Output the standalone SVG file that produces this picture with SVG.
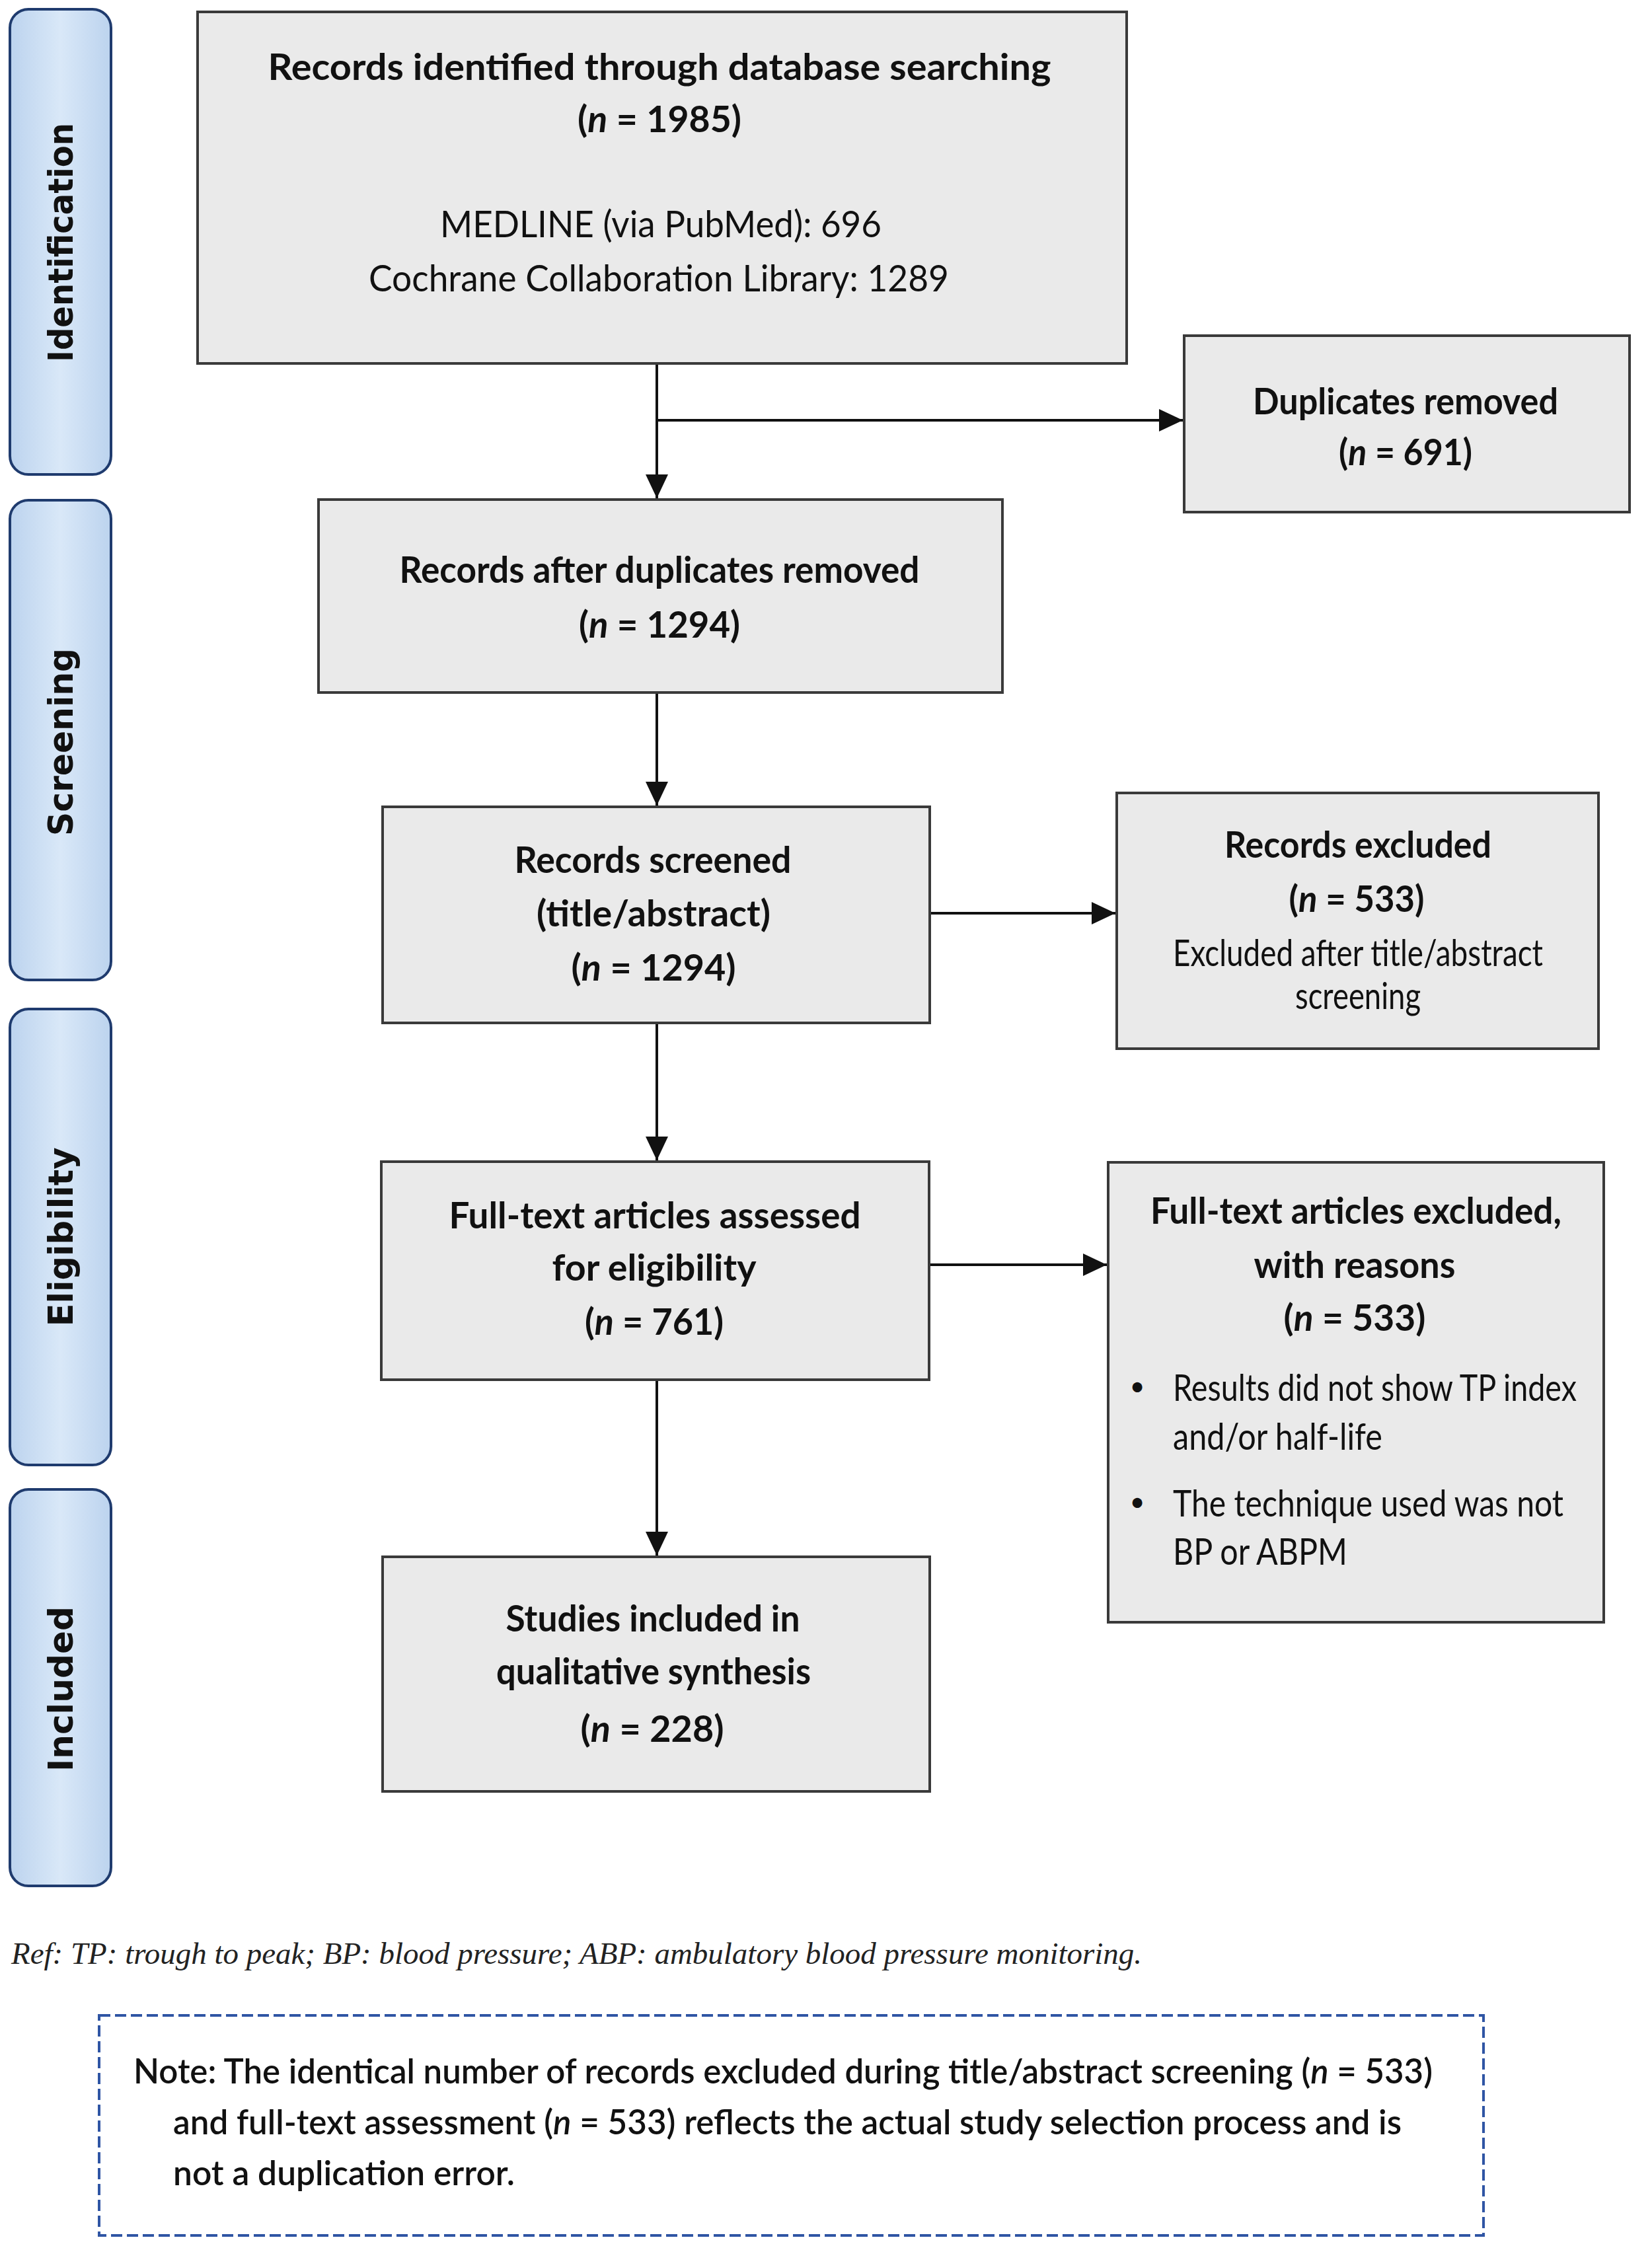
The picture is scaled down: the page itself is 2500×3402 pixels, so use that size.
<svg xmlns="http://www.w3.org/2000/svg" width="2500" height="3402" viewBox="0 0 2500 3402">
<defs>
<linearGradient id="phaseFill" x1="0" y1="0" x2="1" y2="0">
<stop offset="0" stop-color="#bcd3ee"/>
<stop offset="0.5" stop-color="#d9e8f8"/>
<stop offset="1" stop-color="#bcd3ee"/>
</linearGradient>
<marker id="arrow" markerUnits="userSpaceOnUse" markerWidth="36" markerHeight="34" refX="36" refY="17" orient="auto">
<path d="M0,0 L36,17 L0,34 Z" fill="#111"/>
</marker>
<style>
.phase rect{fill:url(#phaseFill);stroke:#1f3b6e;stroke-width:4}
.phase text{font-family:"DejaVu Sans",Verdana,sans-serif;font-weight:bold;font-size:52px;fill:#111;text-anchor:middle}
.box rect{fill:#eaeaea;stroke:#3a3a3a;stroke-width:4}
.t{font-family:Lato,"Open Sans",sans-serif;font-size:56px;fill:#111;text-anchor:middle}
.b{font-weight:bold;font-size:55px}
.l{text-anchor:start}
.i{font-style:italic}
.bul{font-size:40px}
.conn{stroke:#111;stroke-width:4;fill:none}
.ref{font-family:"Liberation Serif","Times New Roman",serif;font-style:italic;font-size:47px;fill:#222}
.note rect{fill:#fff;stroke:#2f55a4;stroke-width:4;stroke-dasharray:17 7}
.nt{font-family:Lato,"Open Sans",sans-serif;font-weight:600;font-size:51px;fill:#111}
</style>
</defs>
<rect x="0" y="0" width="2500" height="3402" fill="#fff"/>

<g id="phase-identification" class="phase">
<rect x="15" y="14" width="153" height="704" rx="28"/>
<text transform="translate(110,367) rotate(-90)" textLength="362" lengthAdjust="spacingAndGlyphs">Identification</text>
</g>
<g id="phase-screening" class="phase">
<rect x="15" y="757" width="153" height="726" rx="28"/>
<text transform="translate(110,1123) rotate(-90)" textLength="284" lengthAdjust="spacingAndGlyphs">Screening</text>
</g>
<g id="phase-eligibility" class="phase">
<rect x="15" y="1527" width="153" height="690" rx="28"/>
<text transform="translate(110,1872) rotate(-90)" textLength="271" lengthAdjust="spacingAndGlyphs">Eligibility</text>
</g>
<g id="phase-included" class="phase">
<rect x="15" y="2254" width="153" height="600" rx="28"/>
<text transform="translate(110,2556) rotate(-90)" textLength="250" lengthAdjust="spacingAndGlyphs">Included</text>
</g>

<g id="connectors">
<path class="conn" d="M994,550 V754" marker-end="url(#arrow)"/>
<path class="conn" d="M994,636 H1790" marker-end="url(#arrow)"/>
<path class="conn" d="M994,1048 V1219" marker-end="url(#arrow)"/>
<path class="conn" d="M1406,1382 H1688" marker-end="url(#arrow)"/>
<path class="conn" d="M994,1548 V1756" marker-end="url(#arrow)"/>
<path class="conn" d="M1406,1914 H1675" marker-end="url(#arrow)"/>
<path class="conn" d="M994,2088 V2354" marker-end="url(#arrow)"/>
</g>

<g id="node-identified" class="box">
<rect x="299" y="18" width="1406" height="532"/>
<text class="t b" x="998" y="121" textLength="1185" lengthAdjust="spacingAndGlyphs">Records identified through database searching</text>
<text class="t b" x="998" y="200" textLength="248" lengthAdjust="spacingAndGlyphs">(<tspan class="i">n</tspan> = 1985)</text>
<text class="t" x="1000" y="359" textLength="668" lengthAdjust="spacingAndGlyphs">MEDLINE (via PubMed): 696</text>
<text class="t" x="997" y="441" textLength="878" lengthAdjust="spacingAndGlyphs">Cochrane Collaboration Library: 1289</text>
</g>

<g id="node-duplicates" class="box">
<rect x="1792" y="508" width="674" height="267"/>
<text class="t b" x="2127" y="627" textLength="462" lengthAdjust="spacingAndGlyphs">Duplicates removed</text>
<text class="t b" x="2127" y="704" textLength="202" lengthAdjust="spacingAndGlyphs">(<tspan class="i">n</tspan> = 691)</text>
</g>

<g id="node-after-duplicates" class="box">
<rect x="482" y="756" width="1035" height="292"/>
<text class="t b" x="998" y="882" textLength="787" lengthAdjust="spacingAndGlyphs">Records after duplicates removed</text>
<text class="t b" x="998" y="965" textLength="244" lengthAdjust="spacingAndGlyphs">(<tspan class="i">n</tspan> = 1294)</text>
</g>

<g id="node-screened" class="box">
<rect x="579" y="1221" width="828" height="327"/>
<text class="t b" x="988" y="1321" textLength="419" lengthAdjust="spacingAndGlyphs">Records screened</text>
<text class="t b" x="989" y="1402" textLength="354" lengthAdjust="spacingAndGlyphs">(title/abstract)</text>
<text class="t b" x="989" y="1484" textLength="249" lengthAdjust="spacingAndGlyphs">(<tspan class="i">n</tspan> = 1294)</text>
</g>

<g id="node-records-excluded" class="box">
<rect x="1690" y="1200" width="729" height="387"/>
<text class="t b" x="2055" y="1298" textLength="404" lengthAdjust="spacingAndGlyphs">Records excluded</text>
<text class="t b" x="2053" y="1380" textLength="205" lengthAdjust="spacingAndGlyphs">(<tspan class="i">n</tspan> = 533)</text>
<text class="t" x="2055" y="1462" textLength="560" lengthAdjust="spacingAndGlyphs">Excluded after title/abstract</text>
<text class="t" x="2055" y="1527" textLength="190" lengthAdjust="spacingAndGlyphs">screening</text>
</g>

<g id="node-fulltext-assessed" class="box">
<rect x="577" y="1758" width="829" height="330"/>
<text class="t b" x="991" y="1859" textLength="623" lengthAdjust="spacingAndGlyphs">Full-text articles assessed</text>
<text class="t b" x="990" y="1938" textLength="309" lengthAdjust="spacingAndGlyphs">for eligibility</text>
<text class="t b" x="990" y="2020" textLength="210" lengthAdjust="spacingAndGlyphs">(<tspan class="i">n</tspan> = 761)</text>
</g>

<g id="node-fulltext-excluded" class="box">
<rect x="1677" y="1759" width="750" height="696"/>
<text class="t b" x="2052" y="1852" textLength="622" lengthAdjust="spacingAndGlyphs">Full-text articles excluded,</text>
<text class="t b" x="2050" y="1934" textLength="305" lengthAdjust="spacingAndGlyphs">with reasons</text>
<text class="t b" x="2050" y="2014" textLength="215" lengthAdjust="spacingAndGlyphs">(<tspan class="i">n</tspan> = 533)</text>
<text class="t bul" x="1721" y="2112">•</text>
<text class="t l" x="1775" y="2120" textLength="611" lengthAdjust="spacingAndGlyphs">Results did not show TP index</text>
<text class="t l" x="1775" y="2194" textLength="317" lengthAdjust="spacingAndGlyphs">and/or half-life</text>
<text class="t bul" x="1721" y="2287">•</text>
<text class="t l" x="1775" y="2295" textLength="591" lengthAdjust="spacingAndGlyphs">The technique used was not</text>
<text class="t l" x="1775" y="2368" textLength="264" lengthAdjust="spacingAndGlyphs">BP or ABPM</text>
</g>

<g id="node-included" class="box">
<rect x="579" y="2356" width="828" height="355"/>
<text class="t b" x="988" y="2469" textLength="445" lengthAdjust="spacingAndGlyphs">Studies included in</text>
<text class="t b" x="989" y="2549" textLength="476" lengthAdjust="spacingAndGlyphs">qualitative synthesis</text>
<text class="t b" x="987" y="2636" textLength="217" lengthAdjust="spacingAndGlyphs">(<tspan class="i">n</tspan> = 228)</text>
</g>

<g id="ref-note">
<text class="ref" x="17" y="2972" textLength="1711" lengthAdjust="spacingAndGlyphs">Ref: TP: trough to peak; BP: blood pressure; ABP: ambulatory blood pressure monitoring.</text>
</g>

<g id="note-box" class="note">
<rect x="150" y="3050" width="2095" height="333"/>
<text class="nt" x="202" y="3153" textLength="1966" lengthAdjust="spacingAndGlyphs">Note: The identical number of records excluded during title/abstract screening (<tspan class="i">n</tspan> = 533)</text>
<text class="nt" x="262" y="3230" textLength="1859" lengthAdjust="spacingAndGlyphs">and full-text assessment (<tspan class="i">n</tspan> = 533) reflects the actual study selection process and is</text>
<text class="nt" x="262" y="3307" textLength="517" lengthAdjust="spacingAndGlyphs">not a duplication error.</text>
</g>
</svg>
